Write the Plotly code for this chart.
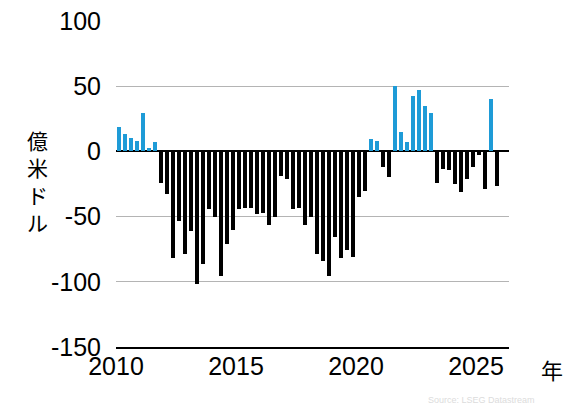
import plotly.graph_objects as go

# Quarterly values (億米ドル), 2010Q1 .. 2025Q4
years = list(range(2010, 2026))
values = [
    18.6, 13.3, 10.2, 7.9,       # 2010
    29.3, 2.6, 7.1, -24.0,       # 2011
    -32.4, -82.1, -53.0, -78.3,  # 2012
    -60.7, -101.3, -86.7, -43.9, # 2013
    -50.0, -95.9, -70.7, -60.0,  # 2014
    -43.9, -43.1, -43.1, -47.7,  # 2015
    -46.9, -56.1, -50.0, -18.6,  # 2016
    -20.9, -43.9, -43.1, -56.1,  # 2017
    -50.0, -78.3, -84.4, -95.9,  # 2018
    -66.0, -82.1, -75.3, -80.6,  # 2019
    -34.7, -30.1, 9.4, 7.9,      # 2020
    -11.7, -19.4, 50.3, 14.8,    # 2021
    7.1, 42.3, 46.9, 34.7,       # 2022
    29.3, -24.0, -13.3, -14.0,   # 2023
    -24.7, -30.9, -20.9, -11.7,  # 2024
    -2.6, -28.6, 40.0, -26.3,    # 2025
]
x_tickvals = [2010, 2015, 2020, 2025]
x_ticktext = ["2010", "2015", "2020", "2025"]
y_tickvals = [100, 50, 0, -50, -100, -150]
y_ticktext = ["100", "50", "0", "-50", "-100", "-150"]
y_label_chars = ["億", "米", "ド", "ル"]

BLUE = "#1e9bd7"
BLACK = "#000000"

# quarter mid-points as decimal years
xs = [y + (q + 0.5) / 4 for y in years for q in range(4)]
colors = [BLUE if v >= 0 else BLACK for v in values]

fig = go.Figure(go.Bar(x=xs, y=values, marker=dict(color=colors, line=dict(width=0)),
                       width=0.17, hoverinfo="x+y"))

NUM_FONT = "Liberation Sans, Arial, sans-serif"
CJK_FONT = "Noto Sans CJK JP, sans-serif"
NUM_SIZE = 25

L, R, T, B = 116, 57, 21, 61
W, H = 566, 408
pw, ph = W - L - R, H - T - B

fig.update_layout(
    width=W, height=H,
    margin=dict(l=L, r=R, t=T, b=B, pad=0, autoexpand=False),
    paper_bgcolor="white", plot_bgcolor="white",
    showlegend=False,
    bargap=0,
    font=dict(family=NUM_FONT, size=NUM_SIZE, color="#000000"),
)
fig.update_xaxes(
    range=[2010, 2026.375],
    tickvals=x_tickvals, ticktext=x_ticktext,
    showgrid=False, zeroline=False,
    showline=True, linecolor="#000000", linewidth=2,
    ticks="", automargin=False,
    ticklabelstandoff=-4,
    tickfont=dict(family=NUM_FONT, size=NUM_SIZE, color="#000000"),
)
fig.update_yaxes(
    range=[-150, 100],
    tickvals=y_tickvals, ticktext=y_ticktext,
    showgrid=True, gridcolor="#b4b4b4", gridwidth=1,
    zeroline=True, zerolinecolor="#000000", zerolinewidth=2,
    showline=False, ticks="", automargin=False,
    ticklabelstandoff=14,
    tickfont=dict(family=NUM_FONT, size=NUM_SIZE, color="#000000"),
)

def px_to_paper(px, py):
    return (px - L) / pw, (H - B - py) / ph

annotations = []
ax, ay = px_to_paper(37, 181)
annotations.append(dict(x=ax, y=ay, xref="paper", yref="paper", text="<br>".join(y_label_chars),
                        showarrow=False, xanchor="center", yanchor="middle", borderpad=0,
                        font=dict(family=CJK_FONT, size=21, color="#000000")))
ax, ay = px_to_paper(552, 369)
annotations.append(dict(x=ax, y=ay, xref="paper", yref="paper", text="年", showarrow=False,
                        xanchor="center", yanchor="middle",
                        font=dict(family=CJK_FONT, size=22, color="#000000")))
ax, ay = px_to_paper(537, 400)
annotations.append(dict(x=ax, y=ay, xref="paper", yref="paper", text="Source: LSEG Datastream",
                        showarrow=False, xanchor="right", yanchor="middle",
                        font=dict(family=NUM_FONT, size=9, color="#dcdcdc")))
fig.update_layout(annotations=annotations)

fig.write_html(
    "out.html",
    config={"displayModeBar": False},
    post_script="document.body.style.margin='0';document.body.style.overflow='hidden';",
)
